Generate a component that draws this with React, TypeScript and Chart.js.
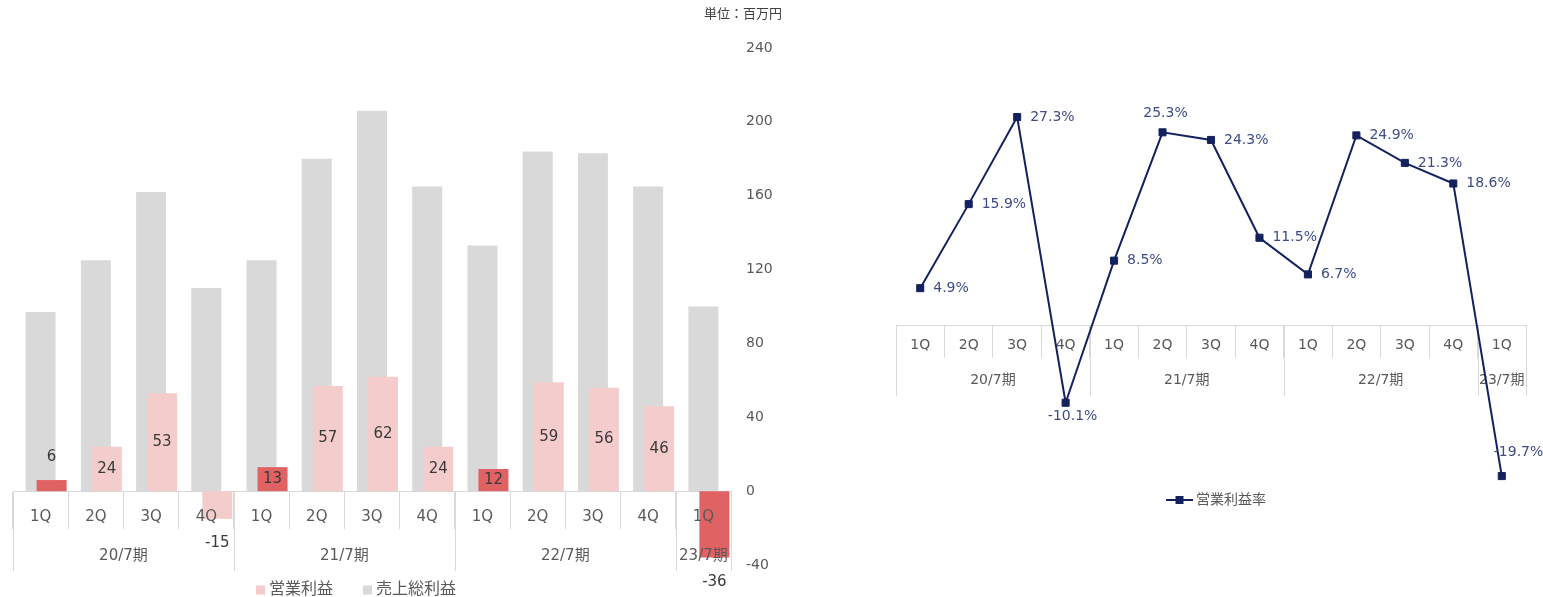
import React, { useEffect, useRef } from 'react';
import { Chart, registerables } from 'chart.js';

Chart.register(...registerables);

// ---- data ----
const quarters = ['1Q', '2Q', '3Q', '4Q', '1Q', '2Q', '3Q', '4Q', '1Q', '2Q', '3Q', '4Q', '1Q'];
const periods = ['20/7期', '21/7期', '22/7期', '23/7期'];
const periodLengths = [4, 4, 4, 1];
const grossProfit = [97, 125, 162, 110, 125, 180, 206, 165, 133, 184, 183, 165, 100];
const operatingProfit = [6, 24, 53, -15, 13, 57, 62, 24, 12, 59, 56, 46, -36];
const operatingMargin = [4.9, 15.9, 27.3, -10.1, 8.5, 25.3, 24.3, 11.5, 6.7, 24.9, 21.3, 18.6, -19.7];
const amountMin = -40;
const amountMax = 240;
const amountStep = 40;
const marginMin = -21;
const marginMax = 33;
const unitText = '単位：百万円';
const profitLabel = '営業利益';
const grossLabel = '売上総利益';
const marginLabel = '営業利益率';

// ---- style ----
const FONT = '"DejaVu Sans", "Noto Sans CJK JP", sans-serif';
const TEXT = '#595959';
const RULE = '#d9d9d9';
const GRAY = '#d9d9d9';
const PINK = '#f4cccc';
const RED = '#e06262';
const NAVY = '#13225e';
const NAVY_TEXT = '#3d4c86';
const marginLabelPlacement = ['right', 'right', 'right', 'below', 'right', 'above', 'right', 'right', 'right', 'right', 'right', 'right', 'aboveRight'];

const profitColors = quarters.map((q) => (q === '1Q' ? RED : PINK));

type PeriodOpts = { lineLength: number; labelOffset: number; fontSize: number };

// second row of the category table: fiscal-year groups with long separators
function periodRow(chart: any, o: PeriodOpts) {
  const x = chart.scales.x;
  const y = chart.scales.y;
  const y0 = y.getPixelForValue(0);
  const half = (x.getPixelForValue(1) - x.getPixelForValue(0)) / 2;
  const ctx = chart.ctx;
  ctx.save();
  ctx.font = `${o.fontSize}px ${FONT}`;
  ctx.fillStyle = TEXT;
  ctx.textAlign = 'center';
  ctx.textBaseline = 'middle';
  ctx.strokeStyle = RULE;
  ctx.lineWidth = 1;
  let start = 0;
  const edges: number[] = [];
  periods.forEach((p, k) => {
    const n = periodLengths[k];
    const left = x.getPixelForValue(start) - half;
    const right = x.getPixelForValue(start + n - 1) + half;
    edges.push(left);
    if (k === periods.length - 1) edges.push(right);
    ctx.fillText(p, (left + right) / 2, y0 + o.labelOffset);
    start += n;
  });
  edges.forEach((e) => {
    const px = Math.round(e) + 0.5;
    ctx.beginPath();
    ctx.moveTo(px, Math.round(y0));
    ctx.lineTo(px, Math.round(y0) + o.lineLength);
    ctx.stroke();
  });
  ctx.restore();
}

function BarPanel() {
  const ref = useRef<HTMLCanvasElement>(null);
  useEffect(() => {
    if (!ref.current) return;
    const chart = new Chart(ref.current, {
      type: 'bar',
      data: {
        labels: quarters,
        datasets: [
          // empty entries that reserve the leading slots of each category group
          { label: 'slotA', data: [], stack: 'slotA', order: -2 },
          { label: 'slotB', data: [], stack: 'gross', order: -1 },
          {
            label: profitLabel,
            data: operatingProfit,
            stack: 'op',
            order: 0,
            backgroundColor: profitColors,
          },
          {
            label: grossLabel,
            data: grossProfit,
            stack: 'gross',
            order: 1,
            backgroundColor: GRAY,
          },
        ],
      },
      options: {
        responsive: false,
        animation: false,
        devicePixelRatio: 1,
        layout: { padding: { left: 13, right: 9, top: 48, bottom: 32 } },
        datasets: { bar: { categoryPercentage: 0.5975, barPercentage: 2.727 } } as any,
        plugins: { legend: { display: false }, tooltip: { enabled: false } },
        scales: {
          x: {
            type: 'category',
            position: { y: 0 } as any,
            offset: true,
            grid: {
              offset: true,
              drawOnChartArea: false,
              drawTicks: true,
              tickLength: 37,
              color: RULE,
              lineWidth: 1,
            },
            border: { display: true, color: RULE, width: 1 },
            ticks: {
              color: TEXT,
              font: { size: 15, family: FONT },
              padding: -20,
              maxRotation: 0,
              autoSkip: false,
              z: 1,
            } as any,
          },
          y: {
            position: 'right',
            min: amountMin,
            max: amountMax,
            ticks: {
              stepSize: amountStep,
              color: TEXT,
              font: { size: 14, family: FONT },
              padding: 15,
            },
            grid: { display: false, drawTicks: false },
            border: { display: false },
            afterFit: (s: any) => {
              s.width = 60;
            },
          } as any,
        },
      },
      plugins: [
        {
          id: 'barExtras',
          afterDatasetsDraw(c: any) {
            const ctx = c.ctx;
            // value labels on the operating profit bars
            const meta = c.getDatasetMeta(2);
            ctx.save();
            ctx.font = `15px ${FONT}`;
            ctx.fillStyle = '#3a3a3a';
            ctx.textAlign = 'center';
            ctx.textBaseline = 'middle';
            meta.data.forEach((el: any, i: number) => {
              const v = operatingProfit[i];
              const h = Math.abs(el.base - el.y);
              let ly: number;
              if (v < 0) ly = el.y + 24;
              else if (h > 16) ly = (el.y + el.base) / 2;
              else ly = el.y - 22.5;
              ctx.fillText(String(v), el.x, ly);
            });
            ctx.restore();
            periodRow(c, { lineLength: 80, labelOffset: 65, fontSize: 15 });

            // unit caption
            ctx.save();
            ctx.font = `13px ${FONT}`;
            ctx.fillStyle = '#404040';
            ctx.textAlign = 'right';
            ctx.textBaseline = 'middle';
            ctx.fillText(unitText, 782, 15);
            ctx.restore();

            // legend
            const ds = c.data.datasets;
            const items = [
              { text: ds[2].label, color: PINK },
              { text: ds[3].label, color: ds[3].backgroundColor },
            ];
            ctx.save();
            ctx.font = `16px ${FONT}`;
            ctx.textBaseline = 'middle';
            ctx.textAlign = 'left';
            const box = 9;
            const gap = 4;
            const spacing = 30;
            const widths = items.map((it) => box + gap + ctx.measureText(it.text).width);
            const total = widths.reduce((a, b) => a + b, 0) + spacing * (items.length - 1);
            let lx = 356 - total / 2;
            const ly = 590;
            items.forEach((it, k) => {
              ctx.fillStyle = it.color;
              ctx.fillRect(lx, ly - box / 2, box, box);
              ctx.fillStyle = TEXT;
              ctx.fillText(it.text, lx + box + gap, ly);
              lx += widths[k] + spacing;
            });
            ctx.restore();
          },
        },
      ],
    });
    return () => chart.destroy();
  }, []);
  return (
    <canvas
      ref={ref}
      width={800}
      height={597}
      style={{ position: 'absolute', left: 0, top: 0, width: 800, height: 597 }}
    />
  );
}

function LinePanel() {
  const ref = useRef<HTMLCanvasElement>(null);
  useEffect(() => {
    if (!ref.current) return;
    const chart = new Chart(ref.current, {
      type: 'line',
      data: {
        labels: quarters,
        datasets: [
          {
            label: marginLabel,
            data: operatingMargin,
            borderColor: NAVY,
            backgroundColor: NAVY,
            borderWidth: 2,
            pointStyle: 'rect',
            pointRadius: 5,
            pointBorderWidth: 1,
            pointBackgroundColor: NAVY,
            pointBorderColor: NAVY,
            tension: 0,
            clip: false as any,
          },
        ],
      },
      options: {
        responsive: false,
        animation: false,
        devicePixelRatio: 1,
        layout: { padding: { left: 16, right: 17, top: 73.5, bottom: 111 } },
        plugins: { legend: { display: false }, tooltip: { enabled: false } },
        scales: {
          x: {
            type: 'category',
            position: { y: 0 } as any,
            offset: true,
            grid: {
              offset: true,
              drawOnChartArea: false,
              drawTicks: true,
              tickLength: 32,
              color: RULE,
              lineWidth: 1,
            },
            border: { display: true, color: RULE, width: 1 },
            ticks: {
              color: TEXT,
              font: { size: 14, family: FONT },
              padding: -21,
              maxRotation: 0,
              autoSkip: false,
            },
          },
          y: { display: false, min: marginMin, max: marginMax },
        },
      },
      plugins: [
        {
          id: 'lineExtras',
          beforeDatasetsDraw(c: any) {
            periodRow(c, { lineLength: 70, labelOffset: 54.5, fontSize: 14 });
          },
          afterDatasetsDraw(c: any) {
            const ctx = c.ctx;
            const meta = c.getDatasetMeta(0);
            ctx.save();
            ctx.font = `14px ${FONT}`;
            ctx.fillStyle = NAVY_TEXT;
            ctx.textBaseline = 'middle';
            meta.data.forEach((pt: any, i: number) => {
              const txt = `${operatingMargin[i].toFixed(1)}%`;
              const place = marginLabelPlacement[i];
              if (place === 'above') {
                ctx.textAlign = 'center';
                ctx.fillText(txt, pt.x + 3, pt.y - 19);
              } else if (place === 'below') {
                ctx.textAlign = 'center';
                ctx.fillText(txt, pt.x + 7, pt.y + 14);
              } else if (place === 'aboveRight') {
                ctx.textAlign = 'left';
                ctx.fillText(txt, pt.x - 8, pt.y - 24);
              } else {
                ctx.textAlign = 'left';
                ctx.fillText(txt, pt.x + 13, pt.y);
              }
            });
            ctx.restore();

            // legend: line with square marker
            const ds = c.data.datasets[0];
            const ly = 500;
            const lx = 286;
            ctx.save();
            ctx.strokeStyle = ds.borderColor;
            ctx.lineWidth = 2;
            ctx.beginPath();
            ctx.moveTo(lx, ly);
            ctx.lineTo(lx + 27, ly);
            ctx.stroke();
            ctx.fillStyle = ds.borderColor;
            ctx.fillRect(lx + 13.5 - 4, ly - 4, 8, 8);
            ctx.font = `14px ${FONT}`;
            ctx.fillStyle = TEXT;
            ctx.textAlign = 'left';
            ctx.textBaseline = 'middle';
            ctx.fillText(ds.label, lx + 30, ly);
            ctx.restore();
          },
        },
      ],
    });
    return () => chart.destroy();
  }, []);
  return (
    <canvas
      ref={ref}
      width={663}
      height={597}
      style={{ position: 'absolute', left: 880, top: 0, width: 663, height: 597 }}
    />
  );
}

export default function App() {
  return (
    <div
      style={{
        position: 'absolute',
        left: 0,
        top: 0,
        width: 1543,
        height: 597,
        background: '#ffffff',
        overflow: 'hidden',
      }}
    >
      <BarPanel />
      <LinePanel />
    </div>
  );
}
